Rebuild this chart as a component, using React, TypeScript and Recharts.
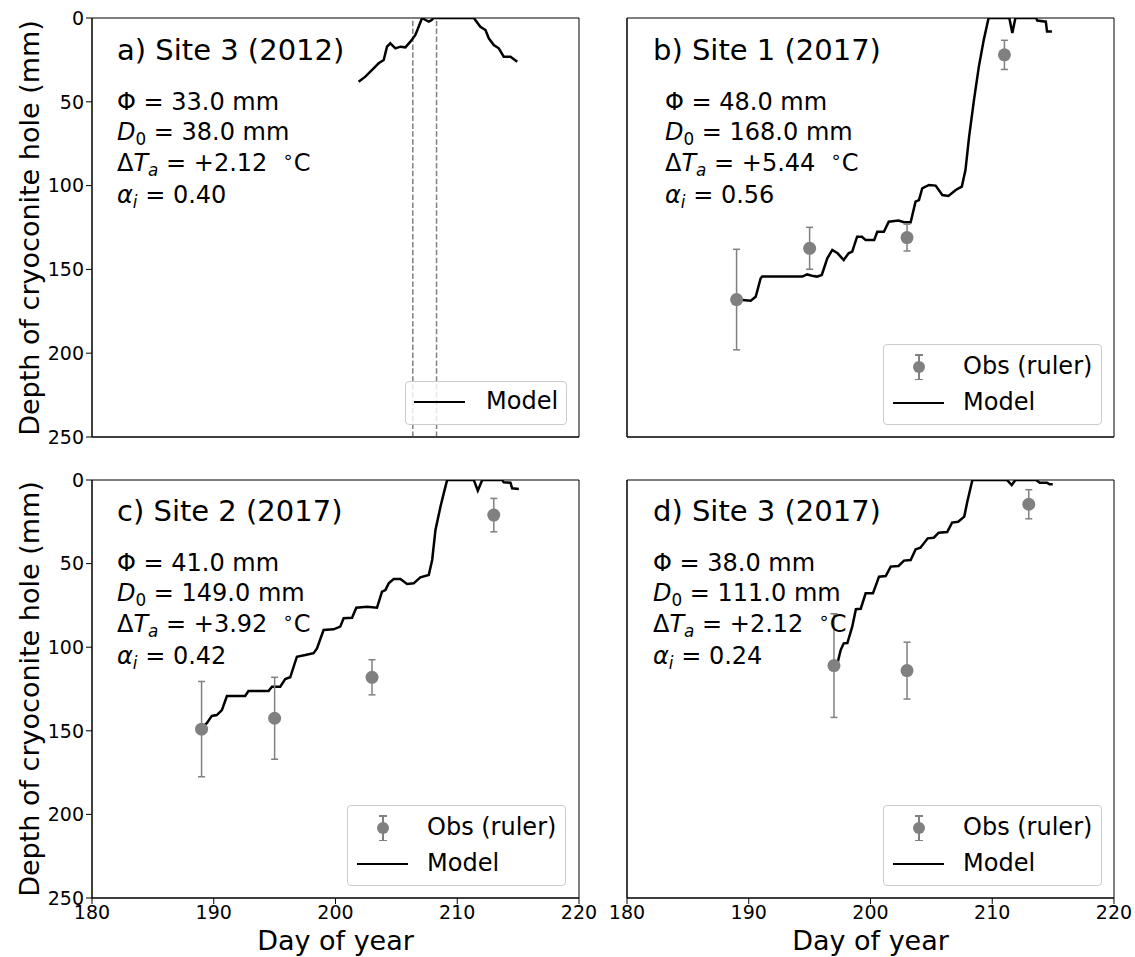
import React from 'react';
import { ComposedChart, Line, Scatter, XAxis, YAxis, ErrorBar, ReferenceLine, ReferenceArea } from 'recharts';

type Pt = { day: number; depth: number };
type Obs = { day: number; depth: number; err: number };

const X_TICKS = [180, 190, 200, 210, 220];
const Y_TICKS = [0, 50, 100, 150, 200, 250];

const TITLES = ['a) Site 3 (2012)', 'b) Site 1 (2017)', 'c) Site 2 (2017)', 'd) Site 3 (2017)'];
const PHI = [33.0, 48.0, 41.0, 38.0];
const D0 = [38.0, 168.0, 149.0, 111.0];
const DTA = [2.12, 5.44, 3.92, 2.12];
const ALPHA = [0.4, 0.56, 0.42, 0.24];

const VLINES_A = [206.35, 208.3];

const modelA: Pt[] = [
  { day: 201.9, depth: 38.0 }, { day: 202.45, depth: 35.0 }, { day: 203.13, depth: 30.0 },
  { day: 203.54, depth: 27.0 }, { day: 203.96, depth: 25.1 }, { day: 204.23, depth: 17.1 },
  { day: 204.5, depth: 15.1 }, { day: 204.92, depth: 18.1 }, { day: 205.33, depth: 17.1 },
  { day: 205.74, depth: 17.5 }, { day: 206.15, depth: 14.1 }, { day: 206.56, depth: 10.1 },
  { day: 206.83, depth: 5.2 }, { day: 207.11, depth: 0 }, { day: 207.4, depth: 1.2 },
  { day: 207.66, depth: 2.2 }, { day: 207.9, depth: 1.2 }, { day: 208.05, depth: 0 },
  { day: 211.36, depth: 0 }, { day: 211.9, depth: 5.2 }, { day: 212.32, depth: 7.2 },
  { day: 212.59, depth: 12.1 }, { day: 213.0, depth: 16.1 }, { day: 213.41, depth: 18.1 },
  { day: 213.82, depth: 23.1 }, { day: 214.37, depth: 23.1 }, { day: 214.93, depth: 26.1 },
];

const modelB: Pt[] = [
  { day: 189.0, depth: 168 }, { day: 189.47, depth: 168.3 }, { day: 190.16, depth: 168.7 },
  { day: 190.57, depth: 166.3 }, { day: 190.98, depth: 155.3 }, { day: 191.1, depth: 154.3 },
  { day: 192.76, depth: 154.3 }, { day: 194.4, depth: 154.3 }, { day: 194.8, depth: 153 },
  { day: 195.3, depth: 154 }, { day: 195.6, depth: 154.3 }, { day: 196.0, depth: 153.3 },
  { day: 196.45, depth: 143.4 }, { day: 196.86, depth: 138.4 }, { day: 197.3, depth: 140.4 },
  { day: 197.8, depth: 144.4 }, { day: 198.2, depth: 140.4 }, { day: 198.5, depth: 139.4 },
  { day: 198.9, depth: 130.5 }, { day: 199.3, depth: 130.5 }, { day: 199.6, depth: 132.5 },
  { day: 200.3, depth: 132.5 }, { day: 200.56, depth: 127.5 }, { day: 201.1, depth: 127.5 },
  { day: 201.5, depth: 121.5 }, { day: 202.3, depth: 120.9 }, { day: 202.75, depth: 121.9 },
  { day: 203.3, depth: 121.9 }, { day: 203.7, depth: 109.6 }, { day: 203.98, depth: 108.6 },
  { day: 204.25, depth: 101.6 }, { day: 204.8, depth: 99.6 }, { day: 205.35, depth: 100 },
  { day: 205.9, depth: 105.6 }, { day: 206.4, depth: 106.2 }, { day: 207.0, depth: 102.6 },
  { day: 207.5, depth: 100.6 }, { day: 207.8, depth: 90.7 }, { day: 208.1, depth: 70.8 },
  { day: 208.5, depth: 48.9 }, { day: 208.9, depth: 29 }, { day: 209.3, depth: 13.1 },
  { day: 209.7, depth: 0 }, { day: 211.4, depth: 0 }, { day: 211.65, depth: 9 },
  { day: 211.9, depth: 0 }, { day: 213.6, depth: 0 }, { day: 213.7, depth: 1.5 },
  { day: 214.4, depth: 2.2 }, { day: 214.5, depth: 8 }, { day: 214.9, depth: 8 },
];

const modelC: Pt[] = [
  { day: 188.96, depth: 148.5 }, { day: 189.43, depth: 145.5 }, { day: 189.84, depth: 141.1 },
  { day: 190.25, depth: 140.6 }, { day: 190.67, depth: 137.6 }, { day: 191.08, depth: 129.2 },
  { day: 192.58, depth: 129.2 }, { day: 192.85, depth: 126.2 }, { day: 194.5, depth: 126.2 },
  { day: 194.78, depth: 123.6 }, { day: 195.46, depth: 123.6 }, { day: 195.87, depth: 119.0 },
  { day: 196.28, depth: 118.0 }, { day: 196.83, depth: 105.7 }, { day: 197.52, depth: 104.7 },
  { day: 198.2, depth: 103.6 }, { day: 198.48, depth: 100.7 }, { day: 199.02, depth: 89.7 },
  { day: 199.84, depth: 89.3 }, { day: 200.39, depth: 87.7 }, { day: 200.67, depth: 82.7 },
  { day: 201.36, depth: 82.4 }, { day: 201.71, depth: 76.4 }, { day: 202.59, depth: 75.8 },
  { day: 203.41, depth: 76.4 }, { day: 203.82, depth: 66.8 }, { day: 204.1, depth: 65.8 },
  { day: 204.37, depth: 61.8 }, { day: 204.78, depth: 59.2 }, { day: 205.33, depth: 59.2 },
  { day: 205.88, depth: 62.2 }, { day: 206.42, depth: 61.8 }, { day: 206.97, depth: 58.2 },
  { day: 207.66, depth: 56.8 }, { day: 207.94, depth: 47.8 }, { day: 208.21, depth: 29.9 },
  { day: 208.62, depth: 16.0 }, { day: 208.89, depth: 8.0 }, { day: 209.17, depth: 0 },
  { day: 211.36, depth: 0 }, { day: 211.69, depth: 6.4 }, { day: 212.05, depth: 0 },
  { day: 213.69, depth: 0 }, { day: 213.82, depth: 1.4 }, { day: 214.37, depth: 1.6 },
  { day: 214.51, depth: 5.0 }, { day: 215.06, depth: 5.4 },
];

const modelD: Pt[] = [
  { day: 197.3, depth: 109.2 }, { day: 197.55, depth: 101.7 }, { day: 197.8, depth: 97.7 },
  { day: 198.1, depth: 97.5 }, { day: 198.5, depth: 87.7 }, { day: 198.8, depth: 77.3 },
  { day: 199.2, depth: 77.0 }, { day: 199.6, depth: 67.8 }, { day: 200.2, depth: 67.8 },
  { day: 200.7, depth: 57.8 }, { day: 201.25, depth: 57.4 }, { day: 201.66, depth: 51.8 },
  { day: 202.3, depth: 51.4 }, { day: 202.75, depth: 48.2 }, { day: 203.3, depth: 47.9 },
  { day: 203.7, depth: 41.5 }, { day: 204.1, depth: 40.5 }, { day: 204.7, depth: 34.9 },
  { day: 205.2, depth: 34.5 }, { day: 205.6, depth: 31.5 }, { day: 206.3, depth: 31.1 },
  { day: 206.7, depth: 25.5 }, { day: 207.2, depth: 25.0 }, { day: 207.7, depth: 21.9 },
  { day: 207.95, depth: 13.0 }, { day: 208.37, depth: 0 }, { day: 211.2, depth: 0 },
  { day: 211.6, depth: 3.0 }, { day: 211.9, depth: 0 }, { day: 213.6, depth: 0 },
  { day: 213.9, depth: 1.6 }, { day: 214.5, depth: 1.6 }, { day: 214.7, depth: 2.6 },
  { day: 214.97, depth: 2.6 },
];

const obsB: Obs[] = [
  { day: 189, depth: 168, err: 30 }, { day: 195, depth: 137.4, err: 12.5 },
  { day: 203, depth: 131, err: 8 }, { day: 211, depth: 22, err: 8.7 },
];
const obsC: Obs[] = [
  { day: 189, depth: 149, err: 28.5 }, { day: 195, depth: 142.5, err: 24.5 },
  { day: 203, depth: 118, err: 10.5 }, { day: 213, depth: 21, err: 10 },
];
const obsD: Obs[] = [
  { day: 197, depth: 111, err: 31 }, { day: 203, depth: 114, err: 17 },
  { day: 213, depth: 14.5, err: 8.7 },
];

const FONT = '"DejaVu Sans", sans-serif';
const GREY = '#808080';

const ML = 90, MT = 18, MR = 30, XH = 30, MB = 10;

type PanelProps = {
  left: number; top: number; w: number; h: number;
  model: Pt[]; obs?: Obs[]; xLabels: boolean; yLabels: boolean; vlines?: number[];
};

function Dot(props: any) {
  const { cx, cy } = props;
  if (cx == null || cy == null) return null;
  return <circle cx={cx} cy={cy} r={6.5} fill={GREY} />;
}

function Panel({ left, top, w, h, model, obs, xLabels, yLabels, vlines }: PanelProps) {
  const tickStyle = { fill: '#000', fontSize: 19, fontFamily: FONT };
  return (
    <div style={{ position: 'absolute', left: left - ML, top: top - MT }}>
      <ComposedChart width={ML + w + MR} height={MT + h + XH + MB} margin={{ top: MT, right: MR, bottom: MB, left: 0 }}>
        <XAxis xAxisId="b" type="number" dataKey="day" domain={[180, 220]} ticks={X_TICKS} allowDataOverflow interval={0}
          tick={xLabels ? tickStyle : false} tickSize={6} tickMargin={2}
          tickLine={{ stroke: '#000' }} axisLine={{ stroke: '#000' }} height={XH} />
        <YAxis yAxisId="l" type="number" dataKey="depth" domain={[0, 250]} reversed ticks={Y_TICKS} allowDataOverflow interval={0}
          tick={yLabels ? tickStyle : false} tickSize={6} tickMargin={2}
          tickLine={{ stroke: '#000' }} axisLine={{ stroke: '#000' }} width={ML} />
        {(vlines || []).map((v) => (
          <ReferenceLine key={v} x={v} xAxisId="b" yAxisId="l" stroke={GREY} strokeWidth={1.5} strokeDasharray="5.5 2.4" />
        ))}
        <Line data={model} xAxisId="b" yAxisId="l" dataKey="depth" type="linear" stroke="#000" strokeWidth={2.5}
          dot={false} activeDot={false} isAnimationActive={false} />
        {obs && (
          <Scatter data={obs} xAxisId="b" yAxisId="l" dataKey="depth" fill={GREY} shape={<Dot />} isAnimationActive={false}>
            <ErrorBar dataKey="err" direction="y" width={3.5} stroke={GREY} strokeWidth={1.5} />
          </Scatter>
        )}
        <ReferenceArea xAxisId="b" yAxisId="l" x1={180} x2={220} y1={0} y2={250} fill="none" fillOpacity={0}
          stroke="#000" strokeWidth={1} ifOverflow="visible" />
      </ComposedChart>
    </div>
  );
}

function Sub({ children, italic }: { children: React.ReactNode; italic?: boolean }) {
  return (
    <span style={{ fontSize: '0.7em', position: 'relative', top: '0.32em', fontStyle: italic ? 'italic' : 'normal' }}>{children}</span>
  );
}

function Annot({ i, x, y, px }: { i: number; x: number; y: number; px: number }) {
  const sign = DTA[i] >= 0 ? '+' : '';
  return (
    <>
      <div style={{ position: 'absolute', left: x, top: y, fontSize: 29, lineHeight: '34px', whiteSpace: 'nowrap' }}>{TITLES[i]}</div>
      <div style={{ position: 'absolute', left: px, top: y + 55, fontSize: 24, lineHeight: '29.5px', whiteSpace: 'pre' }}>
        <div>Φ = {PHI[i].toFixed(1)} mm</div>
        <div><i>D</i><Sub>0</Sub> = {D0[i].toFixed(1)} mm</div>
        <div>Δ<i>T</i><Sub italic>a</Sub> = {sign}{DTA[i].toFixed(2)}{'  '}<span style={{ fontSize: '0.75em', position: 'relative', top: '-0.45em' }}>∘</span>C</div>
        <div><i>α</i><Sub italic>i</Sub> = {ALPHA[i].toFixed(2)}</div>
      </div>
    </>
  );
}

function LegendBox({ left, top, withObs }: { left: number; top: number; withObs: boolean }) {
  const width = withObs ? 219 : 162;
  const height = withObs ? 81 : 44;
  const rowObs = 22;
  const rowModel = withObs ? 58 : 20;
  const lineLeft = withObs ? 9 : 8;
  const textLeft = withObs ? 79 : 80;
  return (
    <div style={{
      position: 'absolute', left, top, width, height, boxSizing: 'border-box',
      border: '1px solid #cccccc', borderRadius: 4, background: 'rgba(255,255,255,0.8)',
    }}>
      {withObs && (
        <>
          <div style={{ position: 'absolute', left: 34, top: rowObs - 13, width: 1.5, height: 26, background: GREY }} />
          <div style={{ position: 'absolute', left: 31, top: rowObs - 13, width: 7.5, height: 1.5, background: GREY }} />
          <div style={{ position: 'absolute', left: 31, top: rowObs + 11.5, width: 7.5, height: 1.5, background: GREY }} />
          <div style={{ position: 'absolute', left: 29, top: rowObs - 6, width: 12, height: 12, borderRadius: '50%', background: GREY }} />
          <div style={{ position: 'absolute', left: textLeft, top: rowObs - 15, fontSize: 24, lineHeight: '29px', whiteSpace: 'nowrap' }}>Obs (ruler)</div>
        </>
      )}
      <div style={{ position: 'absolute', left: lineLeft, top: rowModel - 1.25, width: 51, height: 2.5, background: '#000' }} />
      <div style={{ position: 'absolute', left: textLeft, top: rowModel - 15, fontSize: 24, lineHeight: '29px', whiteSpace: 'nowrap' }}>Model</div>
    </div>
  );
}

export default function App() {
  const W = 487;
  return (
    <div style={{ position: 'absolute', left: 0, top: 0, width: 1135, height: 957, background: '#fff', fontFamily: FONT, color: '#000', overflow: 'hidden' }}>
      <Panel left={92} top={18} w={W} h={419} model={modelA} xLabels={false} yLabels vlines={VLINES_A} />
      <Panel left={627} top={18} w={W} h={419} model={modelB} obs={obsB} xLabels={false} yLabels={false} />
      <Panel left={92} top={480} w={W} h={418} model={modelC} obs={obsC} xLabels yLabels />
      <Panel left={627} top={480} w={W} h={418} model={modelD} obs={obsD} xLabels yLabels={false} />

      <Annot i={0} x={117} y={33} px={117} />
      <Annot i={1} x={653} y={33} px={665} />
      <Annot i={2} x={117} y={494} px={117} />
      <Annot i={3} x={653} y={494} px={653} />

      <LegendBox left={405} top={381} withObs={false} />
      <LegendBox left={883} top={344} withObs />
      <LegendBox left={347} top={805} withObs />
      <LegendBox left={883} top={805} withObs />

      {[227.5, 689].map((cy) => (
        <div key={cy} style={{ position: 'absolute', left: 30 - 220, top: cy - 16, width: 440, height: 32, lineHeight: '32px', fontSize: 27, textAlign: 'center', transform: 'rotate(-90deg)', whiteSpace: 'nowrap' }}>
          Depth of cryoconite hole (mm)
        </div>
      ))}
      {[335.5, 870.5].map((cx) => (
        <div key={cx} style={{ position: 'absolute', left: cx - 150, top: 925, width: 300, lineHeight: '32px', fontSize: 27, textAlign: 'center', whiteSpace: 'nowrap' }}>
          Day of year
        </div>
      ))}
    </div>
  );
}
